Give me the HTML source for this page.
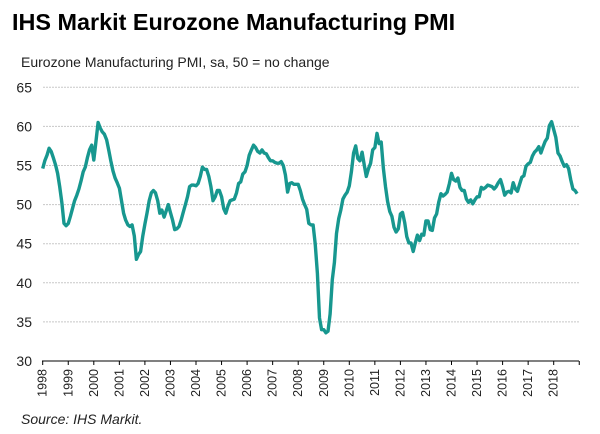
<!DOCTYPE html>
<html><head><meta charset="utf-8"><style>
body{margin:0;background:#fff;width:600px;height:434px;overflow:hidden;font-family:"Liberation Sans",Arial,sans-serif}
svg{display:block}
</style></head><body>
<svg id="chart" width="600" height="434" xmlns="http://www.w3.org/2000/svg">
<text x="12" y="30" font-size="23.4" font-weight="bold" fill="#000">IHS Markit Eurozone Manufacturing PMI</text>
<text x="21" y="67" font-size="14" fill="#222">Eurozone Manufacturing PMI, sa, 50 = no change</text>
<g id="grid"></g><g id="yticks"></g><g id="xaxis"></g>
<path id="line" fill="none" stroke="#17978f" stroke-width="3.4" stroke-linejoin="round"/>
<text x="21" y="424" font-size="14" font-style="italic" fill="#222">Source: IHS Markit.</text>
</svg>
<script>
const yTicks=[30,35,40,45,50,55,60,65];
const years=[1998,1999,2000,2001,2002,2003,2004,2005,2006,2007,2008,2009,2010,2011,2012,2013,2014,2015,2016,2017,2018];
const pmi=[
54.6,55.6,56.3,57.2,56.8,56.0,55.1,54.0,52.3,50.2,47.6,47.3,
47.6,48.5,49.5,50.5,51.2,52.0,53.0,54.2,54.8,56.0,57.0,57.6,
55.7,58.0,60.5,59.8,59.3,59.0,58.3,57.0,55.6,54.3,53.4,52.8,
52.1,50.5,48.9,48.0,47.4,47.2,47.4,46.0,43.0,43.6,44.0,46.0,
47.5,48.9,50.5,51.5,51.8,51.5,50.5,48.9,49.3,48.4,49.2,50.0,
49.0,48.0,46.8,46.9,47.2,48.0,49.0,50.0,51.0,52.3,52.5,52.5,
52.4,52.7,53.6,54.8,54.5,54.5,53.6,52.3,50.5,51.0,51.8,51.8,
51.0,49.5,48.9,49.8,50.5,50.6,50.7,51.5,52.7,52.9,53.9,54.2,
55.0,56.3,57.0,57.6,57.3,56.8,56.6,57.0,56.6,56.5,56.0,55.6,
55.6,55.4,55.3,55.3,55.5,55.0,53.8,51.6,52.7,52.8,52.6,52.6,
52.6,51.8,50.7,50.0,49.4,47.6,47.4,47.4,45.0,41.2,35.5,34.0,
34.0,33.6,33.8,36.0,40.4,42.6,46.3,48.2,49.3,50.7,51.2,51.6,
52.4,54.2,56.6,57.5,55.9,55.6,56.7,55.1,53.6,54.6,55.3,57.0,
57.3,59.1,57.8,58.0,54.6,52.3,50.4,49.1,48.5,47.1,46.5,46.9,
48.8,49.0,47.7,45.9,45.1,45.1,44.0,45.1,46.1,45.4,46.2,46.1,
47.9,47.9,46.8,46.7,48.3,48.8,50.3,51.4,51.1,51.3,51.6,52.7,
54.0,53.2,53.0,53.4,52.2,51.8,51.8,50.7,50.3,50.6,50.1,50.6,
51.0,51.0,52.2,52.0,52.2,52.5,52.4,52.3,52.0,52.3,52.8,53.2,
52.3,51.2,51.6,51.7,51.5,52.8,52.0,51.7,52.6,53.5,53.7,54.9,
55.2,55.4,56.2,56.7,57.0,57.4,56.6,57.4,58.1,58.5,60.1,60.6,
59.6,58.6,56.6,56.2,55.5,54.9,55.1,54.6,53.2,52.0,51.8,51.4];
const NS="http://www.w3.org/2000/svg";
const x0=42.7,pxYear=25.55,yTop=87.3,pxUnit=7.82;
function xs(t){return x0+(t-1998)*pxYear;}
function ys(v){return yTop+(65-v)*pxUnit;}
function mk(tag,attrs,parent,txt){const e=document.createElementNS(NS,tag);for(const k in attrs)e.setAttribute(k,attrs[k]);if(txt!=null)e.textContent=txt;parent.appendChild(e);return e;}
const grid=document.getElementById('grid'),yt=document.getElementById('yticks'),xa=document.getElementById('xaxis');
yTicks.forEach(v=>{
  if(v>30){const g=mk('line',{x1:43,x2:579,y1:ys(v),y2:ys(v),stroke:'#c8c8c8','stroke-width':1,'stroke-dasharray':'2,1'},grid);
  
  }
  const t=mk('text',{x:32,y:ys(v)+5,'font-size':14,'text-anchor':'end',fill:'#222'},yt,String(v));
  
  
});
const ax=mk('line',{x1:42,x2:579,y1:ys(30),y2:ys(30),stroke:'#000','stroke-width':1},xa);


years.concat([2019]).forEach(y=>{
  const tk=mk('line',{x1:xs(y),x2:xs(y),y1:ys(30),y2:ys(30)+4,stroke:'#000','stroke-width':1},xa);
  
  
});
years.forEach(y=>{
  const cx=xs(y)+4,cy=ys(30)+8;
  const t=mk('text',{x:cx,y:cy,'font-size':12.5,'text-anchor':'end',fill:'#222',transform:'rotate(-90 '+cx+' '+cy+')'},xa,String(y));
  
  
});
let d='';
pmi.forEach((v,i)=>{d+=(i?'L':'M')+xs(1998+i/12).toFixed(1)+' '+ys(v).toFixed(1)+' ';});
document.getElementById('line').setAttribute('d',d);
</script>
</body></html>
